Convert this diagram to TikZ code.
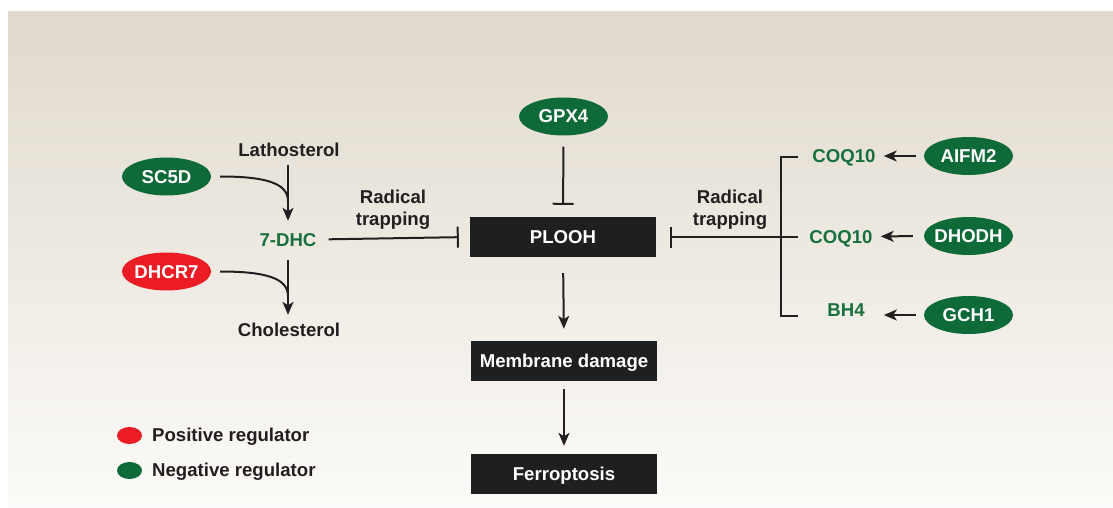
\documentclass[tikz,border=0pt]{standalone}
\usepackage{fontspec}
\setmainfont{Liberation Sans}
\usetikzlibrary{shapes.geometric,arrows.meta,calc}
\definecolor{bgtop}{HTML}{E0D9CC}
\definecolor{bgbot}{HTML}{FCFBF9}
\definecolor{reggreen}{HTML}{0E6A38}
\definecolor{txtgreen}{HTML}{17703E}
\definecolor{regred}{HTML}{EC1C24}
\definecolor{boxdark}{HTML}{1E1F21}
\definecolor{ink}{HTML}{231F20}
\begin{document}
\begin{tikzpicture}[x=1pt,y=-1pt,
  every node/.style={font=\fontsize{18.6}{22}\selectfont\bfseries, inner sep=0pt, text height=13pt, text depth=0pt},
  lbl/.style={text=ink},
  glbl/.style={text=txtgreen},
  stepbox/.style={fill=boxdark, text=white, minimum width=186pt, minimum height=40pt},
  reg/.style={ellipse, text=white, minimum width=89pt, minimum height=38pt, inner xsep=-4pt},
  posreg/.style={reg, fill=regred},
  negreg/.style={reg, fill=reggreen},
  conn/.style={draw=ink, line width=2pt},
  act/.style={conn, -{Stealth[length=13pt,width=11pt,inset=3.5pt]}},
  inh/.style={conn, -{Bar[width=21pt,line width=2pt]}},
  legdot/.style={ellipse, minimum width=25pt, minimum height=17pt, text height=0pt},
  twoline/.style={lbl, align=center, text height=, text depth=, anchor=north},
]
\useasboundingbox (0,0) rectangle (1113,508);
\shade[top color=bgtop, bottom color=bgbot] (8,12) rectangle (1113,508);

% central column
\node[negreg] (gpx4) at (563.5,116.5) {GPX4};
\node[stepbox] (plooh) at (563,237) {PLOOH};
\node[stepbox] (membrane) at (564,361) {Membrane damage};
\node[stepbox] (ferro) at (564,474) {Ferroptosis};

\draw[inh, shorten <=11pt, shorten >=12pt] (gpx4.south) -- (plooh.north);
\draw[act, shorten <=16pt, shorten >=12pt] (plooh.south) -- (membrane.north);
\draw[act, shorten <=8pt, shorten >=8pt] (membrane.south) -- (ferro.north);

% left branch
\node[lbl] (lath) at (289,150.5) {Lathosterol};
\node[glbl] (dhc) at (288,239.5) {7-DHC};
\node[lbl] (chol) at (289,329.5) {Cholesterol};
\node[negreg] (sc5d) at (166.5,176.5) {SC5D};
\node[posreg] (dhcr7) at (166.5,271.5) {DHCR7};

\draw[act, shorten <=8pt, shorten >=12pt] (lath.south -| dhc.north) -- (dhc.north);
\draw[act, shorten <=14pt, shorten >=8pt] (dhc.south) -- (chol.north -| dhc.south);
\draw[conn] ([xshift=9pt]sc5d.east) .. controls +(45,0) and +(0,-18) .. (288,201);
\draw[conn] ([xshift=9pt]dhcr7.east) .. controls +(45,0) and +(0,-18) .. (288,296);

\node[twoline] (rtl) at (393,189.5) {Radical\\trapping};
\draw[inh, shorten <=12pt, shorten >=11pt] (dhc.east) -- (plooh.west);

% right branch
\node[glbl] (coqa) at (844,156) {COQ10};
\node[glbl] (coqb) at (841,236.5) {COQ10};
\node[glbl] (bh4) at (846,309.5) {BH4};
\node[negreg] (aifm2) at (968.5,156) {AIFM2};
\node[negreg] (dhodh) at (968.5,236) {DHODH};
\node[negreg] (gch1) at (968.5,315) {GCH1};

\draw[act, shorten <=8pt, shorten >=8pt] (aifm2.west) -- (coqa.east);
\draw[act, shorten <=11pt, shorten >=8pt] (dhodh.west) -- (coqb.east);
\draw[act, shorten <=8pt] (gch1.west) -- ($(bh4.east |- gch1.west)+(19,0)$);

\coordinate (bt) at (781,157);
\coordinate (bm) at (781,237);
\coordinate (bb) at (781,316);
\coordinate (st) at (798,157);
\coordinate (sm) at (798,237);
\coordinate (sb) at (798,316);
\draw[conn] (st) -- (bt) -- (bb) -- (sb);
\draw[conn] (sm) -- (bm);
\draw[inh, shorten >=14pt] (bm) -- (plooh.east);
\node[twoline] (rtr) at (730,189.5) {Radical\\trapping};

% legend
\node[legdot, fill=regred] (lpos) at (129.5,435.5) {};
\node[legdot, fill=reggreen] (lneg) at (129.5,470.5) {};
\node[lbl, anchor=west] (tpos) at (152,434.5) {Positive regulator};
\node[lbl, anchor=west] (tneg) at (152,469.5) {Negative regulator};
\end{tikzpicture}
\end{document}
